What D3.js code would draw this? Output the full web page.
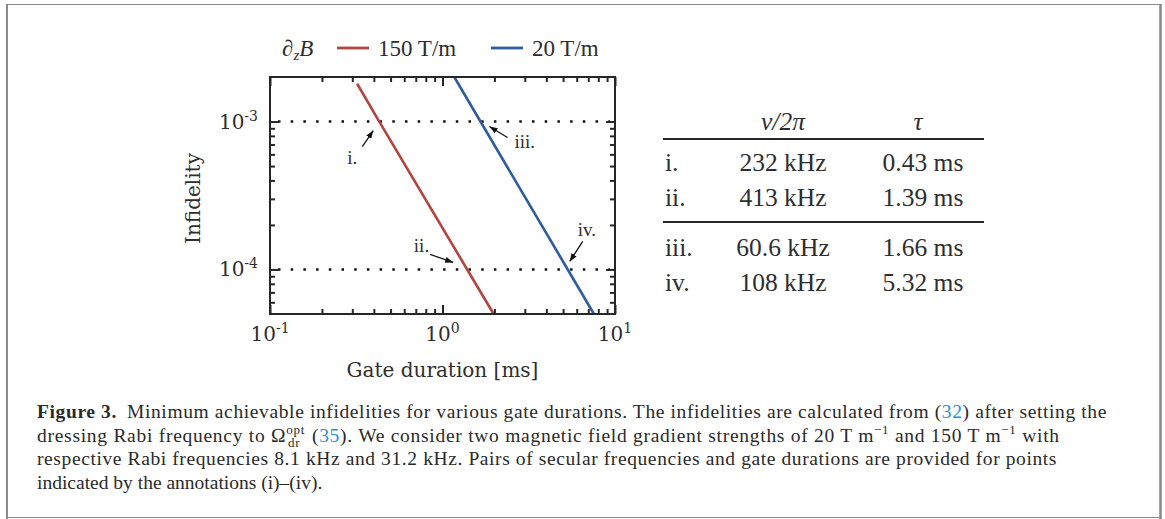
<!DOCTYPE html>
<html>
<head>
<meta charset="utf-8">
<script src="https://cdn.jsdelivr.net/npm/d3@7"></script>
<style>
  body { margin: 0; background: #fff; }
  svg { display: block; }
</style>
</head>
<body>
<div class="figure"></div>
<script>
// Parameters
const width = 1165;
const height = 519;
const plot = { left: 270, right: 615, top: 77, bottom: 314 };
const red = '#b3443f';
const blue = '#2e5c9f';
const ink = '#262626';

// Data
const gateDur150 = [0.32, 0.43, 1.39, 1.98];
const infid150 = [1.8e-3, 1e-3, 1e-4, 5e-5];
const gateDur20 = [1.17, 1.66, 5.32, 7.55];
const infid20 = [2e-3, 1e-3, 1e-4, 5e-5];
const thresholds = [1e-3, 1e-4];

const xMajor = [0.1, 1, 10];
const xMinor = [0.2, 0.3, 0.4, 0.5, 0.6, 0.7, 0.8, 0.9, 2, 3, 4, 5, 6, 7, 8, 9];
const yMajor = [1e-4, 1e-3];
const yMinor = [6e-5, 7e-5, 8e-5, 9e-5, 2e-4, 3e-4, 4e-4, 5e-4, 6e-4, 7e-4, 8e-4, 9e-4];
const xTickExp = ['-1', '0', '1'];
const yTickExp = ['-4', '-3'];

const legendLabels = ['150 T/m', '20 T/m'];
const pointLabels = ['i.', 'ii.', 'iii.', 'iv.'];
const pointDur = [0.43, 1.39, 1.66, 5.32];
const pointInfid = [1e-3, 1e-4, 1e-3, 1e-4];
const tableFreq = ['232 kHz', '413 kHz', '60.6 kHz', '108 kHz'];
const tableTau = ['0.43 ms', '1.39 ms', '1.66 ms', '5.32 ms'];

// label / arrow placement relative to each point (px)
const annotOffsets = [
    { head: [-6, 9], tail: [-17, 25], text: [-27, 42], anchor: 'middle' },
    { head: [-14, -7], tail: [-37, -15], text: [-38, -17], anchor: 'end' },
    { head: [9, 5], tail: [27, 16], text: [34, 26], anchor: 'start' },
    { head: [2, -8], tail: [15, -28], text: [10, -33], anchor: 'start' }
];

function drawFigure() {
    const svg = d3.select('.figure')
        .append('svg')
        .attr('width', width)
        .attr('height', height);

    // page border
    const border = svg.append('g').attr('stroke', '#8a8a8a');
    border.append('line').attr('x1', 7).attr('x2', 7).attr('y1', 4).attr('y2', 519).attr('stroke-width', 2);
    border.append('line').attr('x1', 6).attr('x2', 1162).attr('y1', 4.5).attr('y2', 4.5).attr('stroke-width', 1);
    border.append('line').attr('x1', 1160.5).attr('x2', 1160.5).attr('y1', 4).attr('y2', 519).attr('stroke-width', 2.5);
    border.append('line').attr('x1', 6).attr('x2', 1162).attr('y1', 517.5).attr('y2', 517.5).attr('stroke-width', 1);

    const scaleX = d3.scaleLog().domain([0.1, 10]).range([plot.left, plot.right]);
    const scaleY = d3.scaleLog().domain([5e-5, 2e-3]).range([plot.bottom, plot.top]);

    // dotted threshold lines
    svg.append('g')
        .selectAll('line')
        .data(thresholds)
        .join('line')
        .attr('x1', plot.left + 8)
        .attr('x2', plot.right - 5)
        .attr('y1', d => scaleY(d))
        .attr('y2', d => scaleY(d))
        .attr('stroke', '#111')
        .attr('stroke-width', 2.5)
        .attr('stroke-dasharray', '2.5,10.2');

    // curves
    const line = d3.line().x(d => scaleX(d[0])).y(d => scaleY(d[1]));
    const series = [
        { color: red, pts: d3.zip(gateDur150, infid150) },
        { color: blue, pts: d3.zip(gateDur20, infid20) }
    ];
    svg.append('g')
        .selectAll('path')
        .data(series)
        .join('path')
        .attr('d', d => line(d.pts))
        .attr('fill', 'none')
        .attr('stroke', d => d.color)
        .attr('stroke-width', 2.6);

    // axes, ticks pointing inwards
    const axes = [
        [d3.axisBottom, scaleX, xMajor, xMinor, `translate(0,${plot.bottom})`],
        [d3.axisTop, scaleX, xMajor, xMinor, `translate(0,${plot.top})`],
        [d3.axisLeft, scaleY, yMajor, yMinor, `translate(${plot.left},0)`],
        [d3.axisRight, scaleY, yMajor, yMinor, `translate(${plot.right},0)`]
    ];
    axes.forEach(([axisFn, sc, major, minor, tr]) => {
        [[major, -9], [minor, -5]].forEach(([vals, len]) => {
            const g = svg.append('g')
                .attr('transform', tr)
                .call(axisFn(sc).tickValues(vals).tickSizeInner(len).tickSizeOuter(0).tickFormat(''));
            g.select('.domain').remove();
            g.selectAll('line').attr('stroke', ink).attr('stroke-width', 2);
        });
    });

    // frame
    svg.append('rect')
        .attr('x', plot.left)
        .attr('y', plot.top)
        .attr('width', plot.right - plot.left)
        .attr('height', plot.bottom - plot.top)
        .attr('fill', 'none')
        .attr('stroke', ink)
        .attr('stroke-width', 2);

    // tick labels with superscript exponents
    const tickFont = "'DejaVu Serif', serif";
    const xl = svg.append('g')
        .attr('font-family', tickFont)
        .attr('fill', '#2e2e2e')
        .attr('text-anchor', 'middle')
        .selectAll('text')
        .data(xMajor)
        .join('text')
        .attr('x', d => scaleX(d))
        .attr('y', 341);
    xl.append('tspan').attr('font-size', 20).text('10');
    xl.append('tspan').attr('font-size', 14).attr('dy', -8).text((d, i) => xTickExp[i]);

    const yl = svg.append('g')
        .attr('font-family', tickFont)
        .attr('fill', '#2e2e2e')
        .attr('text-anchor', 'end')
        .selectAll('text')
        .data(yMajor)
        .join('text')
        .attr('x', 258)
        .attr('y', d => scaleY(d) + 7);
    yl.append('tspan').attr('font-size', 20).text('10');
    yl.append('tspan').attr('font-size', 14).attr('dy', -8).text((d, i) => yTickExp[i]);

    // axis titles
    svg.append('text')
        .attr('x', (plot.left + plot.right) / 2)
        .attr('y', 377)
        .attr('text-anchor', 'middle')
        .attr('font-family', tickFont)
        .attr('font-size', 20)
        .attr('fill', '#2e2e2e')
        .text('Gate duration [ms]');
    svg.append('text')
        .attr('transform', `translate(200,${(plot.top + plot.bottom) / 2 + 3}) rotate(-90)`)
        .attr('text-anchor', 'middle')
        .attr('font-family', tickFont)
        .attr('font-size', 20)
        .attr('fill', '#2e2e2e')
        .text('Infidelity');

    // legend
    const serif = "'Liberation Serif', 'Times New Roman', serif";
    const leg = svg.append('g').attr('font-family', serif).attr('font-size', 23).attr('fill', '#2e2e2e');
    const title = leg.append('text').attr('x', 282).attr('y', 56).attr('font-style', 'italic');
    title.append('tspan').text('\u2202');
    title.append('tspan').attr('font-size', 15).attr('dy', 4).text('z');
    title.append('tspan').attr('dy', -4).text('B');
    const legX = [337, 491];
    const legItems = leg.selectAll('g.item')
        .data(legendLabels)
        .join('g')
        .attr('class', 'item')
        .attr('transform', (d, i) => `translate(${legX[i]},0)`);
    legItems.append('line')
        .attr('x1', 0).attr('x2', 32).attr('y1', 48).attr('y2', 48)
        .attr('stroke', (d, i) => series[i].color)
        .attr('stroke-width', 2.8);
    legItems.append('text').attr('x', 41).attr('y', 56).text(d => d);

    // annotations
    svg.append('defs').append('marker')
        .attr('id', 'head')
        .attr('viewBox', '0 0 8 6')
        .attr('refX', 8).attr('refY', 3)
        .attr('markerWidth', 8).attr('markerHeight', 6)
        .attr('markerUnits', 'userSpaceOnUse')
        .attr('orient', 'auto')
        .append('path').attr('d', 'M0,0L8,3L0,6Z').attr('fill', '#111');

    const ann = svg.append('g').attr('font-family', serif).attr('font-size', 19).attr('fill', '#2e2e2e');
    pointLabels.forEach((lab, i) => {
        const px = scaleX(pointDur[i]);
        const py = scaleY(pointInfid[i]);
        const o = annotOffsets[i];
        ann.append('line')
            .attr('x1', px + o.tail[0]).attr('y1', py + o.tail[1])
            .attr('x2', px + o.head[0]).attr('y2', py + o.head[1])
            .attr('stroke', '#111').attr('stroke-width', 1.3)
            .attr('marker-end', 'url(#head)');
        ann.append('text')
            .attr('x', px + o.text[0]).attr('y', py + o.text[1])
            .attr('text-anchor', o.anchor)
            .text(lab);
    });

    // table
    const tab = svg.append('g').attr('font-family', serif).attr('font-size', 25.5).attr('fill', '#2e2e2e');
    const rowY = [171, 206, 256, 291];
    tab.append('text').attr('x', 783).attr('y', 130).attr('text-anchor', 'middle')
        .attr('font-style', 'italic').text('\u03bd/2\u03c0');
    tab.append('text').attr('x', 918).attr('y', 130).attr('text-anchor', 'middle')
        .attr('font-style', 'italic').text('\u03c4');
    [139, 222].forEach(y => {
        tab.append('line').attr('x1', 663).attr('x2', 984).attr('y1', y).attr('y2', y)
            .attr('stroke', ink).attr('stroke-width', 2);
    });
    const rows = tab.selectAll('g.row')
        .data(pointLabels)
        .join('g')
        .attr('class', 'row');
    rows.append('text').attr('x', 665).attr('y', (d, i) => rowY[i]).text(d => d);
    rows.append('text').attr('x', 783).attr('y', (d, i) => rowY[i]).attr('text-anchor', 'middle').text((d, i) => tableFreq[i]);
    rows.append('text').attr('x', 923).attr('y', (d, i) => rowY[i]).attr('text-anchor', 'middle').text((d, i) => tableTau[i]);

    // caption
    const cap = svg.append('g').attr('font-family', serif).attr('font-size', 19.5).attr('fill', '#2a2a2a');
    const linkBlue = '#2b8fd6';
    const capY = [418, 442, 465, 489];
    const capEnd = [1107, 1060, 1057, null];

    const l1 = cap.append('text').attr('x', 37).attr('y', capY[0]);
    l1.append('tspan').attr('font-weight', 'bold').text('Figure 3.');
    l1.append('tspan').attr('dx', 10).text('Minimum achievable infidelities for various gate durations. The infidelities are calculated from (');
    l1.append('tspan').attr('fill', linkBlue).text('32');
    l1.append('tspan').text(') after setting the');

    const l2 = cap.append('text').attr('x', 37).attr('y', capY[1]);
    l2.append('tspan').text('dressing Rabi frequency to \u03a9');
    l2.append('tspan').attr('font-size', 13).attr('dy', -8).text('opt');
    l2.append('tspan').attr('font-size', 13).attr('dx', -17).attr('dy', 13).text('dr');
    l2.append('tspan').attr('dx', 6).attr('dy', -5).text(' (');
    l2.append('tspan').attr('fill', linkBlue).text('35');
    l2.append('tspan').text('). We consider two magnetic field gradient strengths of 20 T m');
    l2.append('tspan').attr('font-size', 13).attr('dy', -8).text('\u22121');
    l2.append('tspan').attr('dy', 8).text(' and 150 T m');
    l2.append('tspan').attr('font-size', 13).attr('dy', -8).text('\u22121');
    l2.append('tspan').attr('dy', 8).text(' with');

    const l3 = cap.append('text').attr('x', 37).attr('y', capY[2])
        .text('respective Rabi frequencies 8.1 kHz and 31.2 kHz. Pairs of secular frequencies and gate durations are provided for points');
    cap.append('text').attr('x', 37).attr('y', capY[3])
        .text('indicated by the annotations (i)\u2013(iv).');

    // stretch the justified lines to their right edge, spread over the letters
    [l1, l2, l3].forEach((t, i) => {
        const bb = t.node().getBBox();
        const nChars = t.text().length;
        const extra = capEnd[i] - (bb.x + bb.width);
        t.attr('letter-spacing', extra / nChars);
    });
}

drawFigure();
</script>
</body>
</html>
